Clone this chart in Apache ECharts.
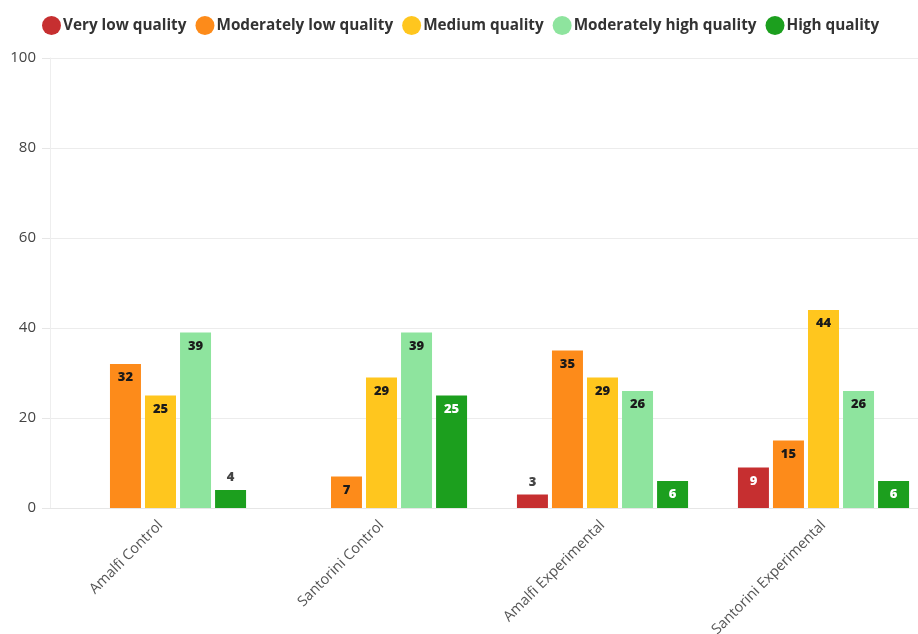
<!DOCTYPE html>
<html>
<head>
<meta charset="utf-8">
<script src="https://cdn.jsdelivr.net/npm/echarts@6/dist/echarts.min.js"></script>
<style>html,body{margin:0;padding:0;background:#fff;overflow:hidden;width:918px;height:634px;}#c{width:934px;height:634px;}</style>
</head>
<body>
<div id="c"></div>
<script>
const categories = ['Amalfi Control', 'Santorini Control', 'Amalfi Experimental', 'Santorini Experimental'];
const seriesNames = ['Very low quality', 'Moderately low quality', 'Medium quality', 'Moderately high quality', 'High quality'];
const veryLow = [null, null, 3, 9];
const modLow = [32, 7, 35, 15];
const medium = [25, 29, 29, 44];
const modHigh = [39, 39, 26, 26];
const high = [4, 25, 6, 6];
const yTicks = [0, 20, 40, 60, 80, 100];

const colors = ['#c62f30', '#fd8b1a', '#ffc61e', '#8ee49e', '#1c9f1e'];
const labelColors = ['#ffffff', '#1a1a1a', '#1a1a1a', '#1a1a1a', '#ffffff'];
const allData = [veryLow, modLow, medium, modHigh, high];

const series = allData.map((d, i) => ({
  name: seriesNames[i],
  type: 'bar',
  barWidth: 31,
  barGap: '13%',
  itemStyle: { color: colors[i] },
  label: {
    show: true,
    position: 'insideTop',
    distance: 7,
    fontFamily: 'Open Sans',
    fontWeight: 800,
    fontSize: 13,
    color: labelColors[i]
  },
  data: d.map(v => {
    if (v === null) return null;
    if (v < 5) return { value: v, label: { position: 'top', color: '#444', distance: 6 } };
    return v;
  })
}));

const chart = echarts.init(document.getElementById('c'));
chart.setOption({
  animation: false,
  textStyle: { fontFamily: 'Open Sans' },
  legend: {
    top: 11,
    left: 37,
    icon: 'circle',
    itemWidth: 19,
    itemHeight: 19,
    itemGap: 9,
    textStyle: { fontFamily: 'Open Sans', fontWeight: 'bold', fontSize: 15.3, color: '#333', padding: [0, 0, 0, -3] },
    data: seriesNames
  },
  grid: { left: 50, right: 0, top: 58, bottom: 126, containLabel: false, outerBoundsMode: 'none' },
  xAxis: {
    type: 'category',
    data: categories,
    axisLine: { lineStyle: { color: '#e6e6e6' } },
    axisTick: { alignWithLabel: true, length: 6, lineStyle: { color: '#dcdcdc' } },
    axisLabel: { rotate: 45, fontSize: 14.5, color: '#555', margin: 15, fontFamily: 'Open Sans' }
  },
  yAxis: {
    type: 'value',
    min: 0,
    max: 100,
    interval: 20,
    axisLine: { show: true, lineStyle: { color: '#eeeeee' } },
    axisTick: { show: true, length: 8, lineStyle: { color: '#e6e6e6' } },
    splitLine: { lineStyle: { color: '#ececec' } },
    axisLabel: { fontSize: 15, color: '#444', margin: 14, fontFamily: 'Open Sans',
      formatter: v => yTicks.includes(v) ? String(v) : '' }
  },
  series: series
});
</script>
</body>
</html>
